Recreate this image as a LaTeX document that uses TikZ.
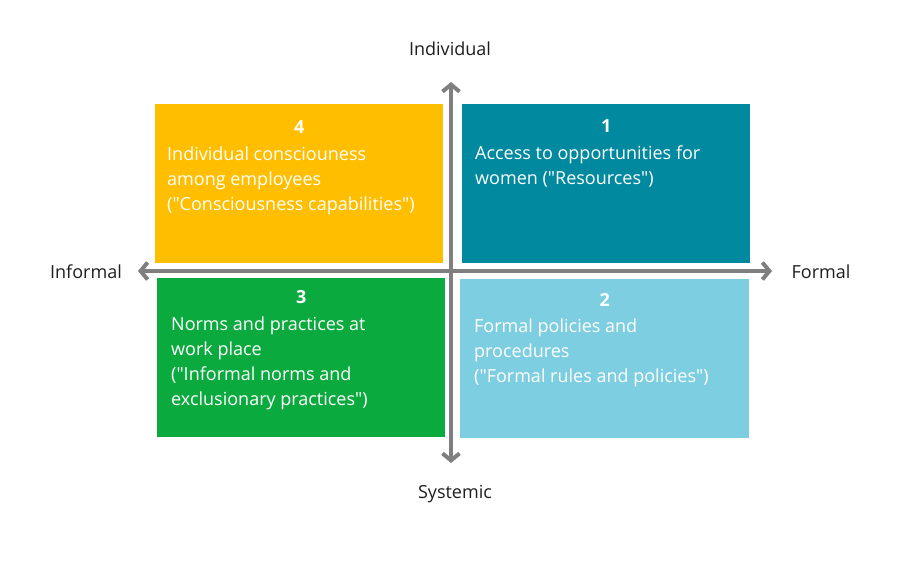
\documentclass[tikz,border=0pt]{standalone}
\usepackage{fontspec}
\setmainfont{Open Sans}
\usetikzlibrary{arrows.meta,positioning}

\definecolor{quadyellow}{HTML}{FFBE00}
\definecolor{quadteal}{HTML}{00899F}
\definecolor{quadgreen}{HTML}{0BAA3F}
\definecolor{quadlight}{HTML}{7ECEE1}
\definecolor{axisgray}{HTML}{7F7F7F}
\definecolor{axistext}{HTML}{1E1E1E}

\begin{document}
\begin{tikzpicture}[x=1pt,y=-1pt,
  quad/.style={inner sep=0pt,minimum width=288pt,minimum height=159pt,anchor=north west},
  quadnum/.style={text=white,font=\fontsize{18}{25}\selectfont\bfseries},
  quadtext/.style={text=white,font=\fontsize{18}{25}\selectfont,align=left,anchor=north west,inner sep=0pt},
  axislabel/.style={text=axistext,font=\fontsize{18}{20}\selectfont},
  axis/.style={draw=axisgray,line width=4pt,{Straight Barb[length=7pt,width=17pt]}-{Straight Barb[length=7pt,width=17pt]}}]

\useasboundingbox[fill=white] (0,0) rectangle (900,563);

% the four quadrants
\node[quad,fill=quadyellow] (q4) at (155,104) {};
\node[quad,fill=quadteal] (q1) at (462,104) {};
\node[quad,fill=quadgreen] (q3) at (157,278) {};
\node[quad,fill=quadlight,minimum width=289pt] (q2) at (460,279) {};

% numbers and texts
\node[quadnum] (n4) at ([yshift=-23pt]q4.north) {4};
\node[quadtext] (t4) at ([xshift=12pt,yshift=-43pt]q4.north west)
  {Individual consciouness\\among employees\\(\textquotedbl Consciousness capabilities\textquotedbl)};

\node[quadnum] (n1) at ([yshift=-22pt]q1.north) {1};
\node[quadtext] (t1) at ([xshift=13pt,yshift=-42pt]q1.north west)
  {Access to opportunities for\\women (\textquotedbl Resources\textquotedbl)};

\node[quadnum] (n3) at ([yshift=-19pt]q3.north) {3};
\node[quadtext] (t3) at ([xshift=14pt,yshift=-39pt]q3.north west)
  {Norms and practices at\\work place\\(\textquotedbl Informal norms and\\exclusionary practices\textquotedbl)};

\node[quadnum] (n2) at ([yshift=-21pt]q2.north) {2};
\node[quadtext] (t2) at ([xshift=14pt,yshift=-40pt]q2.north west)
  {Formal policies and\\procedures\\(\textquotedbl Formal rules and policies\textquotedbl)};

% axes
\coordinate (top) at (451,82);
\coordinate (bottom) at (451,463);
\coordinate (left) at (138,271);
\coordinate (right) at (772,271);
\draw[axis] (bottom) -- (top);
\draw[axis] (left) -- (right);

\node[axislabel] (individual) at (450,49) {Individual};
\node[axislabel] (systemic) at (455,494) {Systemic};
\node[axislabel] (informal) at (86,272) {Informal};
\node[axislabel] (formal) at (821,272) {Formal};

\end{tikzpicture}
\end{document}
